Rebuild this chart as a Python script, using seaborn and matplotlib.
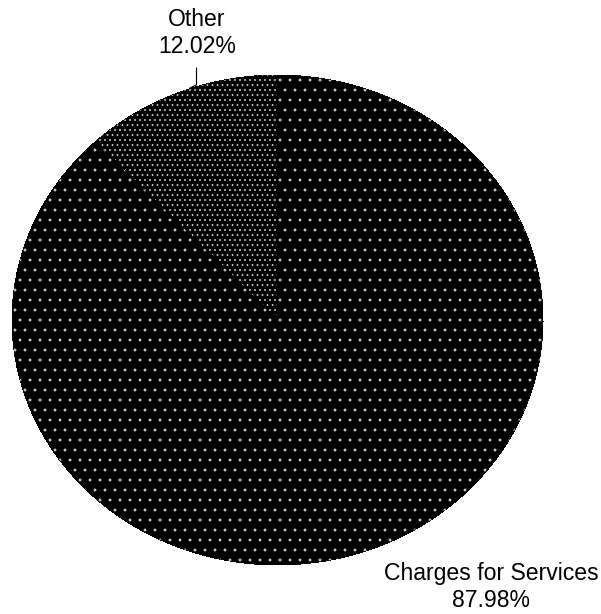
import matplotlib
matplotlib.use('Agg')
import matplotlib.pyplot as plt
import seaborn as sns
from matplotlib.lines import Line2D

# data
labels = ['Other', 'Charges for Services']
shares = [12.02, 87.98]
hatches = ['..', '.']

sns.set_theme(style='white')
plt.rcParams['font.family'] = ['Liberation Sans', 'DejaVu Sans']
plt.rcParams['hatch.linewidth'] = 1.0

# render at 60 dpi so the hatch dots get the reference spacing
DPI = 60
W, H = 601, 614
fig = plt.figure(figsize=(W / DPI, H / DPI), dpi=DPI)
fig.patch.set_facecolor('white')

# pie is drawn as an ellipse: x 12..543, y 75..565 (pixels)
ax = fig.add_axes([12 / W, 1 - 565 / H, (543 - 12) / W, (565 - 75) / H])
wedges, _ = ax.pie(shares, startangle=90, counterclock=True,
                   colors=['black', 'black'],
                   wedgeprops=dict(edgecolor='#d0d0d0', linewidth=0,
                                   antialiased=False))
for w, h in zip(wedges, hatches):
    w.set_hatch(h)
ax.set_aspect('auto')
ax.set_xlim(-1, 1)
ax.set_ylim(-1, 1)
ax.axis('off')

fs = 23 * 72 / DPI
# labels
fig.text(197 / W, 1 - 33 / H, f'{labels[0]}\n{shares[0]:.2f}%',
         ha='center', va='center', fontsize=fs, linespacing=1.25, color='black')
fig.text(491 / W, 1 - 587 / H, f'{labels[1]}\n{shares[1]:.2f}%',
         ha='center', va='center', fontsize=fs, linespacing=1.25, color='black')

# leader line for "Other"
fig.add_artist(Line2D([196.5 / W, 196.5 / W, 190 / W],
                      [1 - 68 / H, 1 - 85 / H, 1 - 88 / H],
                      color='black', linewidth=1.4))

fig.savefig('out.png', dpi=DPI)
